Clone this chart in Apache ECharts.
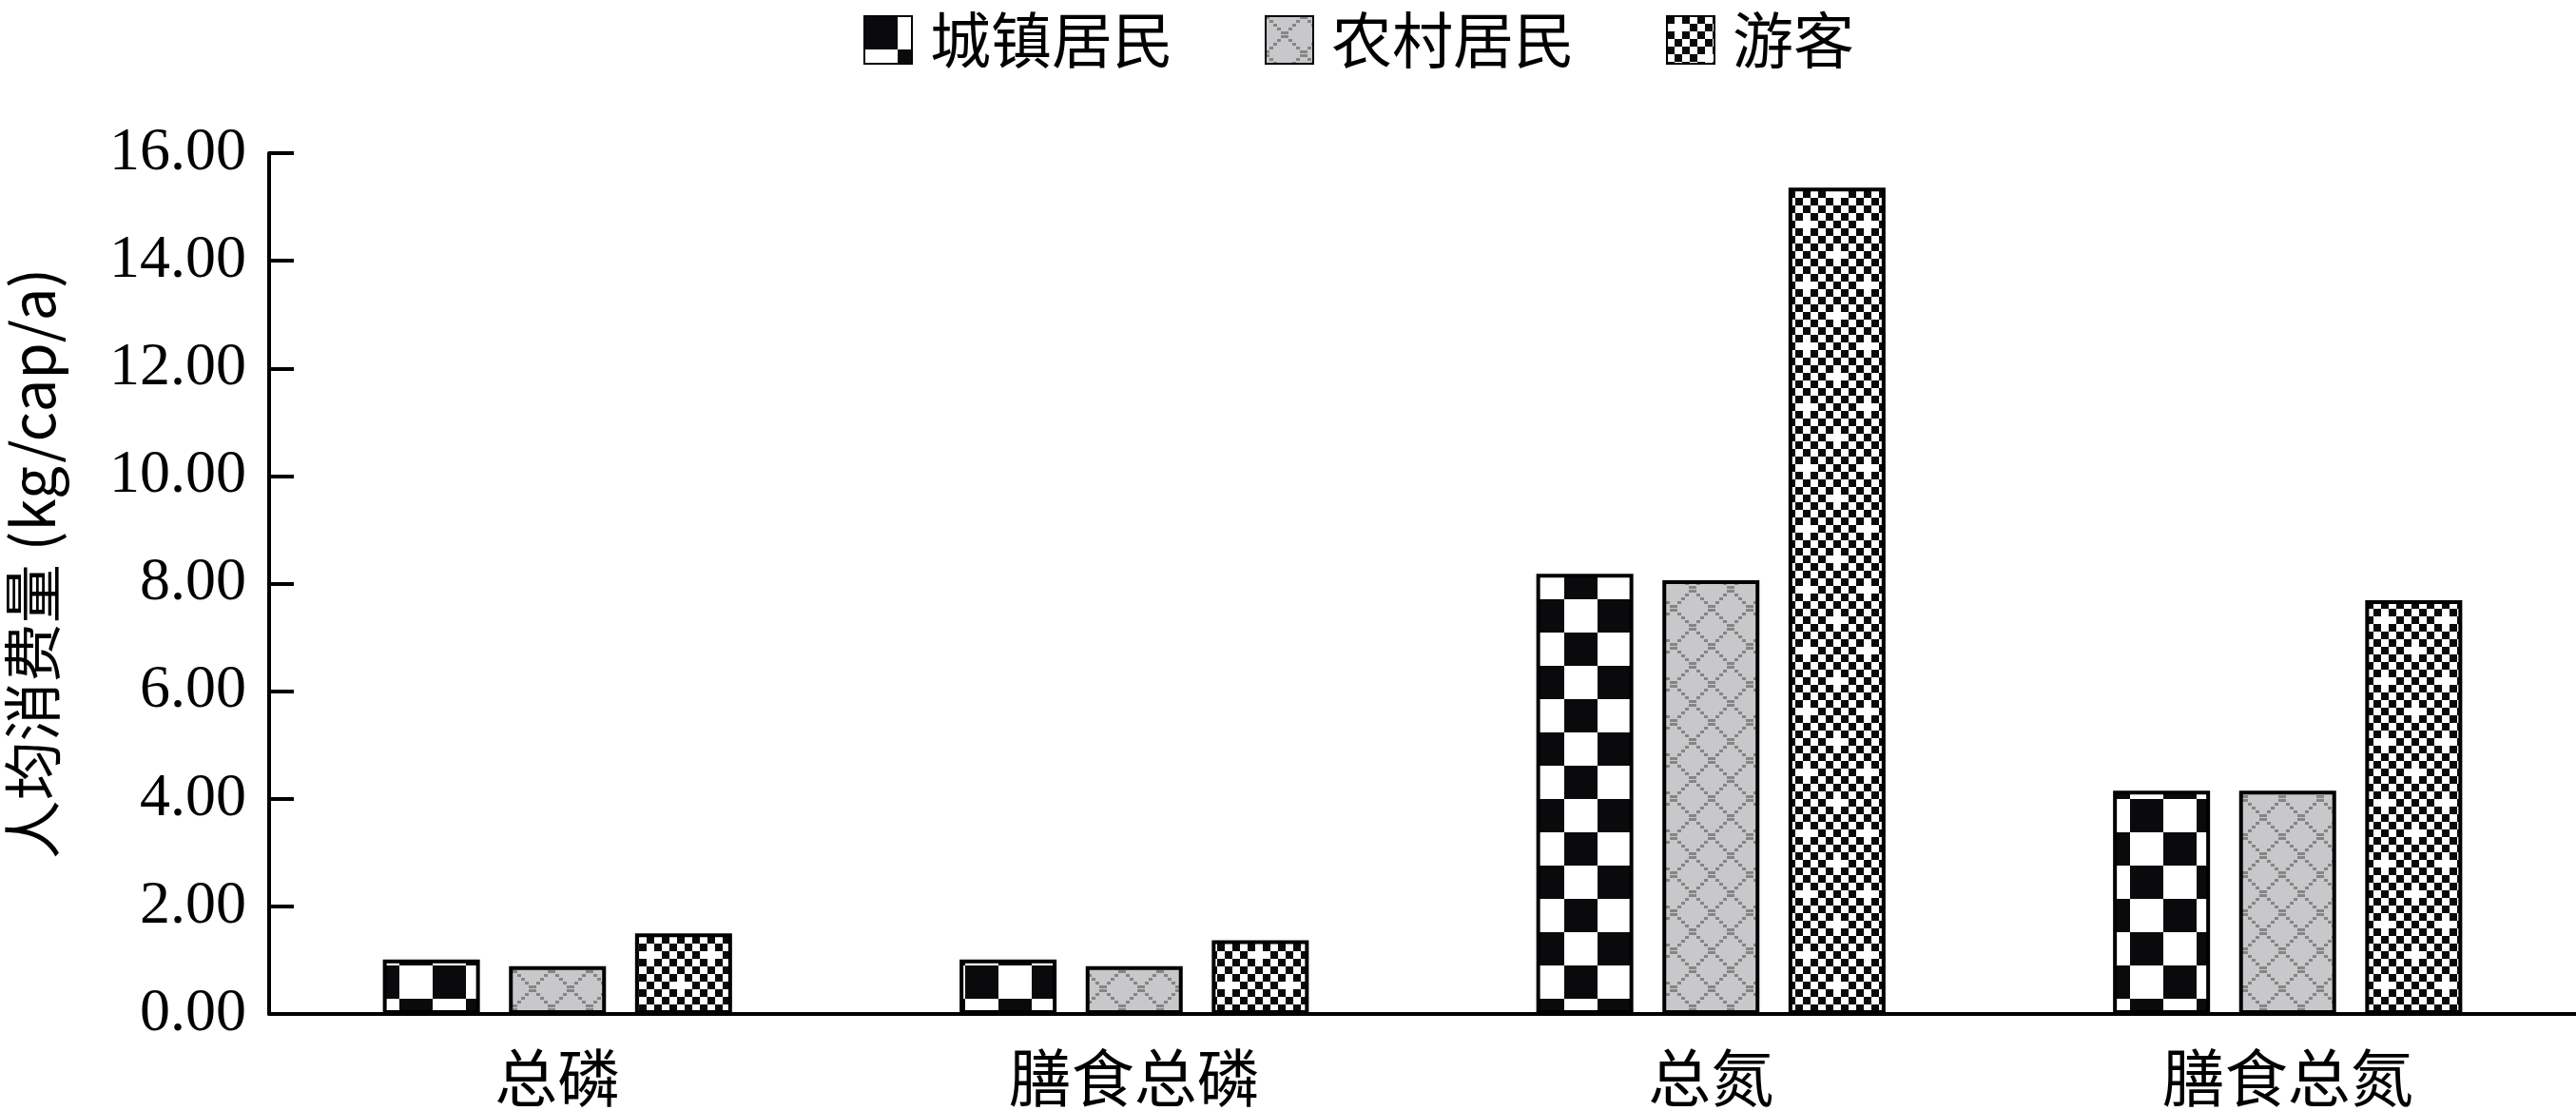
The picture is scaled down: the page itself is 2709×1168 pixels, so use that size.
<!DOCTYPE html>
<html>
<head>
<meta charset="utf-8">
<script src="https://cdn.jsdelivr.net/npm/echarts@6/dist/echarts.min.js"></script>
<style>
html,body{margin:0;padding:0;background:#fff;}
#chart{width:2709px;height:1168px;}
</style>
</head>
<body>
<div id="chart"></div>
<script>
const categories = ['总磷', '膳食总磷', '总氮', '膳食总氮'];
const seriesNames = ['城镇居民', '农村居民', '游客'];
const urbanValues = [1.01, 1.01, 8.18, 4.15];
const ruralValues = [0.89, 0.89, 8.06, 4.15];
const touristValues = [1.50, 1.37, 15.36, 7.69];
const yTicks = { min: 0, max: 16, interval: 2 };
const yAxisName = '人均消费量 (kg/cap/a)';

function makeCanvas(w, h, draw) {
  const c = document.createElement('canvas');
  c.width = w; c.height = h;
  const ctx = c.getContext('2d');
  draw(ctx, w, h);
  return c;
}
// Urban: big checkerboard
const urbanPat = makeCanvas(70, 70, (ctx) => {
  ctx.fillStyle = '#fff'; ctx.fillRect(0, 0, 70, 70);
  ctx.fillStyle = '#0a0a0c';
  ctx.fillRect(0, 0, 35, 35);
  ctx.fillRect(35, 35, 35, 35);
});
// Rural: light grey with dotted diamond lattice
const ruralPat = makeCanvas(40, 40, (ctx) => {
  ctx.fillStyle = '#c8c8cb'; ctx.fillRect(0, 0, 40, 40);
  ctx.fillStyle = '#858585';
  for (let k = 0; k < 10; k++) {
    ctx.fillRect(k * 4, k * 4, 4, 3);
    ctx.fillRect(36 - k * 4, k * 4, 4, 3);
  }
});
// Tourist: fine checkerboard with white plus marks
const touristPat = makeCanvas(64, 64, (ctx) => {
  ctx.fillStyle = '#fff'; ctx.fillRect(0, 0, 64, 64);
  ctx.fillStyle = '#0a0a0c';
  for (let i = 0; i < 8; i++) {
    for (let j = 0; j < 8; j++) {
      if ((i + j) % 2 === 0) {
        if ((i === 1 && j === 1) || (i === 5 && j === 5)) continue;
        ctx.fillRect(i * 8, j * 8, 8, 8);
      }
    }
  }
});

const patterns = [urbanPat, ruralPat, touristPat];
const values = [urbanValues, ruralValues, touristValues];

const chart = echarts.init(document.getElementById('chart'), null, { renderer: 'canvas' });
const serif = '"Liberation Serif", "Times New Roman", serif';
const cjk = '"Noto Sans CJK SC", sans-serif';

chart.setOption({
  backgroundColor: '#fff',
  animation: false,
  legend: {
    left: 903,
    top: 5,
    itemWidth: 50,
    itemHeight: 50,
    itemGap: 96,
    icon: 'rect',
    textStyle: { fontSize: 64, fontFamily: cjk, color: '#000', padding: [0, 0, 0, 14] },
    data: seriesNames
  },
  grid: { left: 283, right: 0, top: 161, bottom: 102, containLabel: false, outerBoundsMode: 'none' },
  xAxis: {
    type: 'category',
    data: categories,
    axisLine: { lineStyle: { color: '#000', width: 4 } },
    axisTick: { show: false },
    axisLabel: { fontSize: 66, fontFamily: cjk, color: '#000', margin: 34 }
  },
  yAxis: {
    type: 'value',
    min: yTicks.min,
    max: yTicks.max,
    interval: yTicks.interval,
    name: yAxisName,
    nameLocation: 'middle',
    nameRotate: 90,
    nameGap: 218,
    nameTextStyle: { fontSize: 62, fontFamily: cjk, color: '#000', padding: [0, 0, 0, 42] },
    axisLine: { show: true, lineStyle: { color: '#000', width: 4 } },
    axisTick: { show: true, inside: true, length: 26, lineStyle: { color: '#000', width: 4 } },
    splitLine: { show: false },
    axisLabel: {
      fontSize: 64, fontFamily: serif, color: '#000', margin: 24,
      formatter: (v) => v.toFixed(2)
    }
  },
  series: seriesNames.map((name, i) => ({
    name: name,
    type: 'bar',
    data: values[i],
    barWidth: 102,
    barGap: '30%',
    itemStyle: {
      color: { image: patterns[i], repeat: 'repeat' },
      borderColor: '#000',
      borderWidth: 4
    }
  }))
});
</script>
</body>
</html>
